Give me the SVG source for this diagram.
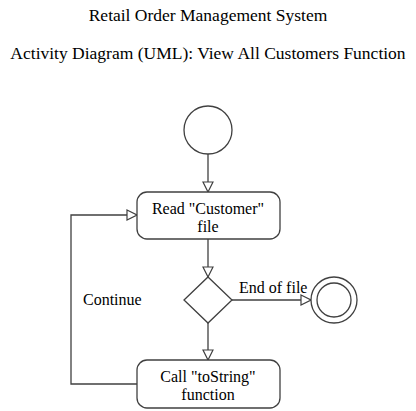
<svg xmlns="http://www.w3.org/2000/svg" width="416" height="411" viewBox="0 0 416 411">
<style>
text{font-family:"Liberation Serif","Times New Roman",serif;font-size:16px;fill:#000}
.t{font-size:17.5px}
.s{fill:#fff;stroke:#404040;stroke-width:1.3}
.c{fill:none;stroke:#404040;stroke-width:1.3}
</style>
<defs>
<marker id="a" viewBox="0 0 12 12" refX="11" refY="6" markerWidth="12" markerHeight="12" markerUnits="userSpaceOnUse" orient="auto">
<path d="M1,1 L11,6 L1,11 Z" fill="#fff" stroke="#404040" stroke-width="1.2"/>
</marker>
</defs>
<text class="t" x="208" y="21" text-anchor="middle">Retail Order Management System</text>
<text class="t" x="208" y="59" text-anchor="middle">Activity Diagram (UML): View All Customers Function</text>
<g id="connectors">
<line class="c" x1="208" y1="154" x2="208" y2="192" marker-end="url(#a)"/>
<line class="c" x1="208" y1="239" x2="208" y2="277" marker-end="url(#a)"/>
<line class="c" x1="208" y1="323" x2="208" y2="360" marker-end="url(#a)"/>
<line class="c" x1="232" y1="300" x2="311" y2="300" marker-end="url(#a)"/>
<polyline class="c" points="137,384 71,384 71,215 137,215" marker-end="url(#a)"/>
<text x="239" y="293">End of file</text>
<text x="83" y="305">Continue</text>
</g>
<g id="start"><circle class="s" cx="208" cy="130" r="24"/></g>
<g id="read"><rect class="s" x="137" y="192" width="143" height="47" rx="10"/>
<text x="208" y="214" text-anchor="middle">Read "Customer"</text>
<text x="208" y="232" text-anchor="middle">file</text></g>
<g id="decision"><polygon class="s" points="208,277 232,300 208,323 184,300"/></g>
<g id="end"><circle class="s" cx="334" cy="300" r="23"/><circle class="s" cx="334" cy="300" r="17"/></g>
<g id="call"><rect class="s" x="137" y="360" width="143" height="48" rx="10"/>
<text x="208" y="382" text-anchor="middle">Call "toString"</text>
<text x="208" y="400" text-anchor="middle">function</text></g>
</svg>
